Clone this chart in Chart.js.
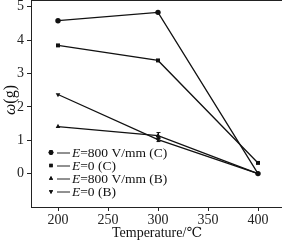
<!DOCTYPE html>
<html>
<head>
<meta charset="utf-8">
<script src="https://cdn.jsdelivr.net/npm/chart.js@4.4.1/dist/chart.umd.min.js"></script>
<style>
  html, body { margin: 0; padding: 0; background: #fff; }
</style>
</head>
<body>
<canvas id="grafico" width="282" height="240"></canvas>
<script>
const temperaturas = [200, 300, 400];
const e800C = [4.58, 4.83, 0.0];
const e0C = [3.84, 3.39, 0.32];
const e800B = [1.41, 1.14, 0.0];
const e0B = [2.37, 1.02, 0.0];
const erro800B = [0, 0.09, 0];
const erro0B = [0, 0.06, 0];
const xTicks = [200, 250, 300, 350, 400];
const yTicks = [0, 1, 2, 3, 4, 5];
const legendas = ["E=800 V/mm (C)", "E=0 (C)", "E=800 V/mm (B)", "E=0 (B)"];

const serif = "'Liberation Serif', 'DejaVu Serif', serif";

function serie(label, valores, estilo, rot) {
  return {
    label: label,
    data: temperaturas.map((t, i) => ({ x: t, y: valores[i] })),
    borderColor: "#111",
    backgroundColor: "#111",
    borderWidth: 1.3,
    pointStyle: estilo,
    rotation: rot,
    pointRadius: estilo === "rect" ? 2.8 : 2.7,
    pointBorderWidth: 0,
    tension: 0,
    clip: false,
  };
}

// moldura, barras de erro, legenda e titulos desenhados a mao
const extras = {
  id: "extras",
  afterDatasetsDraw(chart) {
    const ctx = chart.ctx;
    const sx = chart.scales.x;
    const sy = chart.scales.y;
    ctx.save();
    ctx.strokeStyle = "#111";
    ctx.lineWidth = 1;
    [[e800B, erro800B], [e0B, erro0B]].forEach(([vals, errs]) => {
      temperaturas.forEach((t, i) => {
        if (!errs[i]) return;
        const px = Math.round(sx.getPixelForValue(t)) + 0.5;
        const y1 = sy.getPixelForValue(vals[i] + errs[i]);
        const y2 = sy.getPixelForValue(vals[i] - errs[i]);
        ctx.beginPath();
        ctx.moveTo(px, y1);
        ctx.lineTo(px, y2);
        ctx.moveTo(px - 2, y1);
        ctx.lineTo(px + 2, y1);
        ctx.moveTo(px - 2, y2);
        ctx.lineTo(px + 2, y2);
        ctx.stroke();
      });
    });
    ctx.restore();
  },
  afterDraw(chart) {
    const ctx = chart.ctx;
    const a = chart.chartArea;
    ctx.save();
    ctx.strokeStyle = "#222";
    ctx.lineWidth = 1;
    ctx.beginPath();
    ctx.moveTo(a.left, a.top + 0.5);
    ctx.lineTo(a.right, a.top + 0.5);
    ctx.stroke();

    // legenda
    ctx.fillStyle = "#111";
    ctx.textBaseline = "middle";
    const y0 = 152.5;
    legendas.forEach((txt, i) => {
      const y = y0 + i * 13;
      const ds = chart.data.datasets[i];
      Chart.helpers.drawPoint(ctx, {
        pointStyle: ds.pointStyle,
        rotation: ds.rotation,
        radius: 2.4,
        borderWidth: 0,
      }, 51, y);
      ctx.fill();
      ctx.beginPath();
      ctx.moveTo(57, y + 0.5);
      ctx.lineTo(70, y + 0.5);
      ctx.lineWidth = 1;
      ctx.stroke();
      ctx.textAlign = "left";
      ctx.font = "italic 13.5px " + serif;
      ctx.fillText(txt[0], 72, y + 1);
      const w = ctx.measureText(txt[0]).width;
      ctx.font = "13.5px " + serif;
      ctx.fillText(txt.slice(1), 72 + w, y + 1);
    });

    // titulo x
    ctx.textAlign = "center";
    ctx.textBaseline = "middle";
    ctx.font = "14px " + serif;
    ctx.fillText("Temperature/\u2103", 157, 233);

    // titulo y
    ctx.translate(11, 100);
    ctx.rotate(-Math.PI / 2);
    ctx.font = "italic 16px " + serif;
    const wo = ctx.measureText("\u03c9").width;
    ctx.font = "16px " + serif;
    const wg = ctx.measureText("(g)").width;
    let x = -(wo + wg) / 2;
    ctx.textAlign = "left";
    ctx.font = "italic 16px " + serif;
    ctx.fillText("\u03c9", x, 0);
    ctx.font = "16px " + serif;
    ctx.fillText("(g)", x + wo, 0);
    ctx.restore();
  },
};

function semPadding(s) {
  s.paddingTop = 0;
  s.paddingBottom = 0;
  s.paddingLeft = 0;
  s.paddingRight = 0;
}

new Chart(document.getElementById("grafico"), {
  type: "line",
  data: {
    datasets: [
      serie(legendas[0], e800C, "circle", 0),
      serie(legendas[1], e0C, "rect", 0),
      serie(legendas[2], e800B, "triangle", 0),
      serie(legendas[3], e0B, "triangle", 180),
    ],
  },
  options: {
    responsive: false,
    animation: false,
    devicePixelRatio: 1,
    layout: { autoPadding: false, padding: { top: 0, right: 0, left: 0, bottom: 0 } },
    scales: {
      x: {
        type: "linear",
        min: 173,
        max: 424,
        afterBuildTicks: (s) => { s.ticks = xTicks.map((v) => ({ value: v })); },
        afterFit: (s) => { s.height = 33; semPadding(s); },
        grid: { drawOnChartArea: false, tickLength: 4, color: "#222" },
        border: { display: true, color: "#222", width: 1 },
        ticks: { color: "#222", padding: 1, font: { family: serif, size: 14 } },
      },
      y: {
        min: -1,
        max: 5.2,
        afterBuildTicks: (s) => { s.ticks = yTicks.map((v) => ({ value: v })); },
        afterFit: (s) => { s.width = 31; semPadding(s); },
        grid: { drawOnChartArea: false, tickLength: 4, color: "#222" },
        border: { display: true, color: "#222", width: 1 },
        ticks: { color: "#222", padding: 3, font: { family: serif, size: 14 } },
      },
    },
    plugins: {
      legend: { display: false },
      tooltip: { enabled: false },
    },
  },
  plugins: [extras],
});
</script>
</body>
</html>
